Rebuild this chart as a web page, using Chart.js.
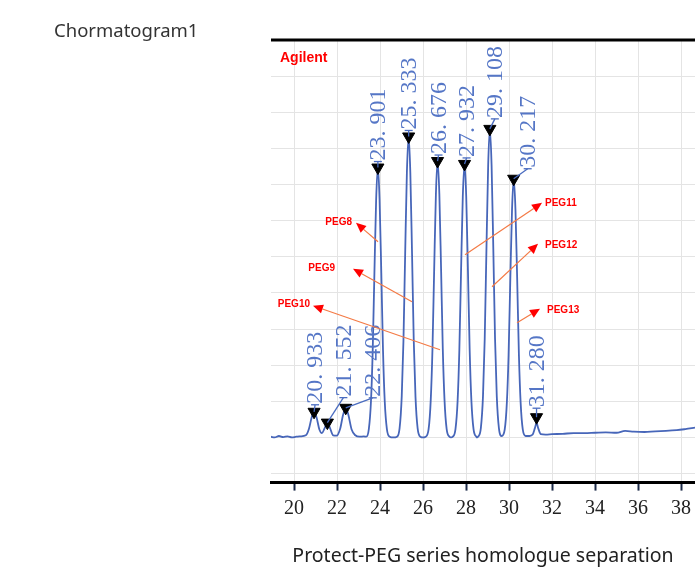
<!DOCTYPE html>
<html><head><meta charset="utf-8">
<script src="https://cdn.jsdelivr.net/npm/chart.js@4"></script>
<style>html,body{margin:0;padding:0;background:#fff;}canvas{display:block}</style>
</head><body>
<canvas id="c" width="695" height="568"></canvas>
<script>
// ---- data ----
const retentionTimes = [
 18.93,19.10,19.30,19.50,19.70,19.90,20.10,20.30,20.55,20.70,20.82,20.933,21.05,21.18,21.30,21.42,21.552,21.68,21.82,21.98,
 22.15,22.28,22.406,22.53,22.68,22.85,23.05,23.25,23.36,23.48,23.58,23.66,23.74,23.82,23.901,23.98,24.06,24.14,24.22,24.32,
 24.45,24.62,24.79,24.91,25.01,25.09,25.17,25.25,25.333,25.41,25.49,25.57,25.65,25.75,25.88,26.00,26.12,26.26,26.36,26.44,
 26.52,26.60,26.676,26.76,26.84,26.92,27.00,27.10,27.23,27.30,27.38,27.51,27.61,27.69,27.77,27.85,27.932,28.01,28.09,28.17,
 28.25,28.35,28.48,28.52,28.56,28.69,28.79,28.87,28.95,29.03,29.108,29.19,29.27,29.35,29.43,29.53,29.66,29.80,29.90,29.98,
 30.06,30.14,30.217,30.30,30.38,30.46,30.54,30.64,30.77,30.95,31.10,31.20,31.28,31.36,31.48,31.70,32.00,32.50,33.00,33.50,
 34.00,34.50,35.00,35.40,35.80,36.30,36.80,37.30,37.80,38.20,38.65
];
const signal = [
 0.02,0.00,0.04,0.01,0.03,0.00,0.02,0.03,0.06,0.25,0.55,0.71,0.55,0.22,0.12,0.25,0.41,0.25,0.06,0.05,
 0.25,0.62,0.82,0.62,0.22,0.06,0.02,0.03,0.02,0.23,1.00,2.40,4.56,6.58,7.47,6.58,4.56,2.40,1.00,0.23,
 0.02,0.00,0.02,0.25,1.13,2.67,5.08,7.33,8.33,7.33,5.08,2.67,1.13,0.25,0.02,0.00,0.02,0.23,1.04,2.45,
 4.67,6.74,7.65,6.74,4.67,2.45,1.04,0.23,0.02,0.00,0.02,0.23,1.02,2.42,4.62,6.66,7.57,6.66,4.62,2.42,
 1.02,0.23,0.02,0.00,0.02,0.26,1.15,2.73,5.21,7.52,8.54,7.52,5.21,2.73,1.15,0.26,0.04,0.22,0.97,2.29,
 4.37,6.30,7.16,6.30,4.37,2.29,0.97,0.22,0.04,0.04,0.08,0.25,0.40,0.25,0.09,0.08,0.09,0.10,0.12,0.12,
 0.13,0.14,0.13,0.18,0.16,0.15,0.17,0.18,0.20,0.23,0.27
];
const peakTimes = [20.933,21.552,22.406,23.901,25.333,26.676,27.932,29.108,30.217,31.280];
const peakMarkerHeights = [0.71,0.41,0.82,7.47,8.33,7.65,7.57,8.54,7.16,0.56];
const xTickValues = [20,22,24,26,28,30,32,34,36,38];
const yGridValues = [-1,0,1,2,3,4,5,6,7,8,9,10,11];
const annotationLabels = ['PEG8','PEG9','PEG10','PEG11','PEG12','PEG13'];
const annotationTailTimes = [23.907,25.488,26.791,27.953,29.209,30.372];
const annotationTailSignal = [5.415,3.755,2.428,5.055,4.170,3.175];
const annotationHeadTimes = [22.884,22.744,20.884,31.535,31.349,31.442];
const annotationHeadSignal = [5.940,4.668,3.645,6.493,5.359,3.562];

// ---- styling / layout (pixel offsets) ----
const labelOffsets = [[1,-8],[16,-26],[27,-11],[0,-7],[0,-7],[1,-7],[2,-7],[5,-11],[14,-11],[0,-10]];
const annTextOffsets = [[-4,-1,'right'],[-18,-1,'right'],[-3,-1,'right'],[3,0,'left'],[7,1,'left'],[7,2,'left']];

const tracePoints = retentionTimes.map((t,i)=>({x:t,y:signal[i]}));
const markerPoints = peakTimes.map((t,i)=>({x:t,y:peakMarkerHeights[i]}));

const deco = {
  id:'deco',
  afterDatasetsDraw(chart){
    const ctx = chart.ctx, xs = chart.scales.x, ys = chart.scales.y, ca = chart.chartArea;
    ctx.save();
    // peak labels
    peakTimes.forEach((t,i)=>{
      const mx = xs.getPixelForValue(t), my = ys.getPixelForValue(peakMarkerHeights[i]);
      const lx = mx + labelOffsets[i][0], ly = my + labelOffsets[i][1];
      ctx.strokeStyle = '#4a6cc0'; ctx.lineWidth = 1.3;
      ctx.beginPath(); ctx.moveTo(mx, my); ctx.lineTo(lx, ly+1); ctx.stroke();
      ctx.beginPath(); ctx.moveTo(lx-4, ly+1); ctx.lineTo(lx+4, ly+1); ctx.stroke();
      ctx.save();
      ctx.translate(lx, ly);
      ctx.rotate(-Math.PI/2);
      ctx.fillStyle = '#5576c6';
      ctx.font = '24px "Liberation Serif"';
      ctx.textAlign = 'left'; ctx.textBaseline = 'middle';
      ctx.fillText(t.toFixed(3).replace('.', '. '), 0, 1);
      ctx.restore();
    });
    // PEG annotations
    annotationLabels.forEach((lab,i)=>{
      const tx = xs.getPixelForValue(annotationTailTimes[i]), ty = ys.getPixelForValue(annotationTailSignal[i]);
      const hx = xs.getPixelForValue(annotationHeadTimes[i]), hy = ys.getPixelForValue(annotationHeadSignal[i]);
      const ang = Math.atan2(hy-ty, hx-tx), L = 10, W = 4.5;
      const bx = hx - Math.cos(ang)*L, by = hy - Math.sin(ang)*L;
      ctx.strokeStyle = '#f47a45'; ctx.lineWidth = 1.2;
      ctx.beginPath(); ctx.moveTo(tx,ty); ctx.lineTo(bx,by); ctx.stroke();
      ctx.fillStyle = '#f00';
      ctx.beginPath();
      ctx.moveTo(hx,hy);
      ctx.lineTo(bx - Math.sin(ang)*W, by + Math.cos(ang)*W);
      ctx.lineTo(bx + Math.sin(ang)*W, by - Math.cos(ang)*W);
      ctx.closePath(); ctx.fill();
      ctx.font = 'bold 10px "Liberation Sans"';
      ctx.textAlign = annTextOffsets[i][2]; ctx.textBaseline = 'middle';
      ctx.fillText(lab, hx + annTextOffsets[i][0], hy + annTextOffsets[i][1]);
    });
    // Agilent
    ctx.fillStyle = '#f00';
    ctx.font = 'bold 14px "Liberation Sans"';
    ctx.textAlign = 'left'; ctx.textBaseline = 'middle';
    ctx.fillText('Agilent', ca.left + 9, ca.top + 18);
    // top frame line
    ctx.strokeStyle = '#000'; ctx.lineWidth = 3;
    ctx.beginPath(); ctx.moveTo(ca.left, ca.top); ctx.lineTo(ca.right, ca.top); ctx.stroke();
    // chart heading
    ctx.fillStyle = '#333';
    ctx.font = '18.5px "Noto Sans"';
    ctx.textAlign = 'left'; ctx.textBaseline = 'middle';
    ctx.fillText('Chormatogram1', 54, 32);
    ctx.restore();
  }
};

new Chart(document.getElementById('c'), {
  type:'line',
  data:{datasets:[
    {data:markerPoints, showLine:false, pointStyle:'triangle', rotation:180, pointRadius:7,
     pointBackgroundColor:'#000', pointBorderColor:'#000', pointBorderWidth:1},
    {data:tracePoints, borderColor:'#4766b9', borderWidth:1.8, pointRadius:0,
     cubicInterpolationMode:'monotone', fill:false}
  ]},
  options:{
    responsive:false, animation:false, devicePixelRatio:1,
    layout:{autoPadding:false, padding:{left:271, top:40, right:0, bottom:0}},
    plugins:{legend:{display:false}, tooltip:{enabled:false}, title:{display:false}},
    scales:{
      x:{type:'linear', min:18.93, max:38.65,
        afterBuildTicks:s=>{ s.ticks = xTickValues.map(v=>({value:v})); },
        afterFit:s=>{ s.paddingRight = 0; s.paddingLeft = 0; },
        grid:{color:'#e4e4e4', lineWidth:1, tickColor:'#1c2a48', tickLength:8, tickWidth:2},
        border:{display:true, color:'#000', width:3},
        ticks:{color:'#222', font:{family:'Liberation Serif', size:20}, padding:6, maxRotation:0, autoSkip:false},
        title:{display:true, text:'Protect-PEG series homologue separation', color:'#222',
               font:{family:'Noto Sans', size:19.5}, padding:{top:18, bottom:0}}
      },
      y:{type:'linear', min:-1.25, max:11,
        afterBuildTicks:s=>{ s.ticks = yGridValues.map(v=>({value:v})); },
        afterFit:s=>{ s.paddingTop = 0; s.paddingBottom = 0; },
        grid:{color:'#e4e4e4', lineWidth:1, drawTicks:false},
        border:{display:false},
        ticks:{display:false}
      }
    }
  },
  plugins:[deco]
});
</script>
</body></html>
